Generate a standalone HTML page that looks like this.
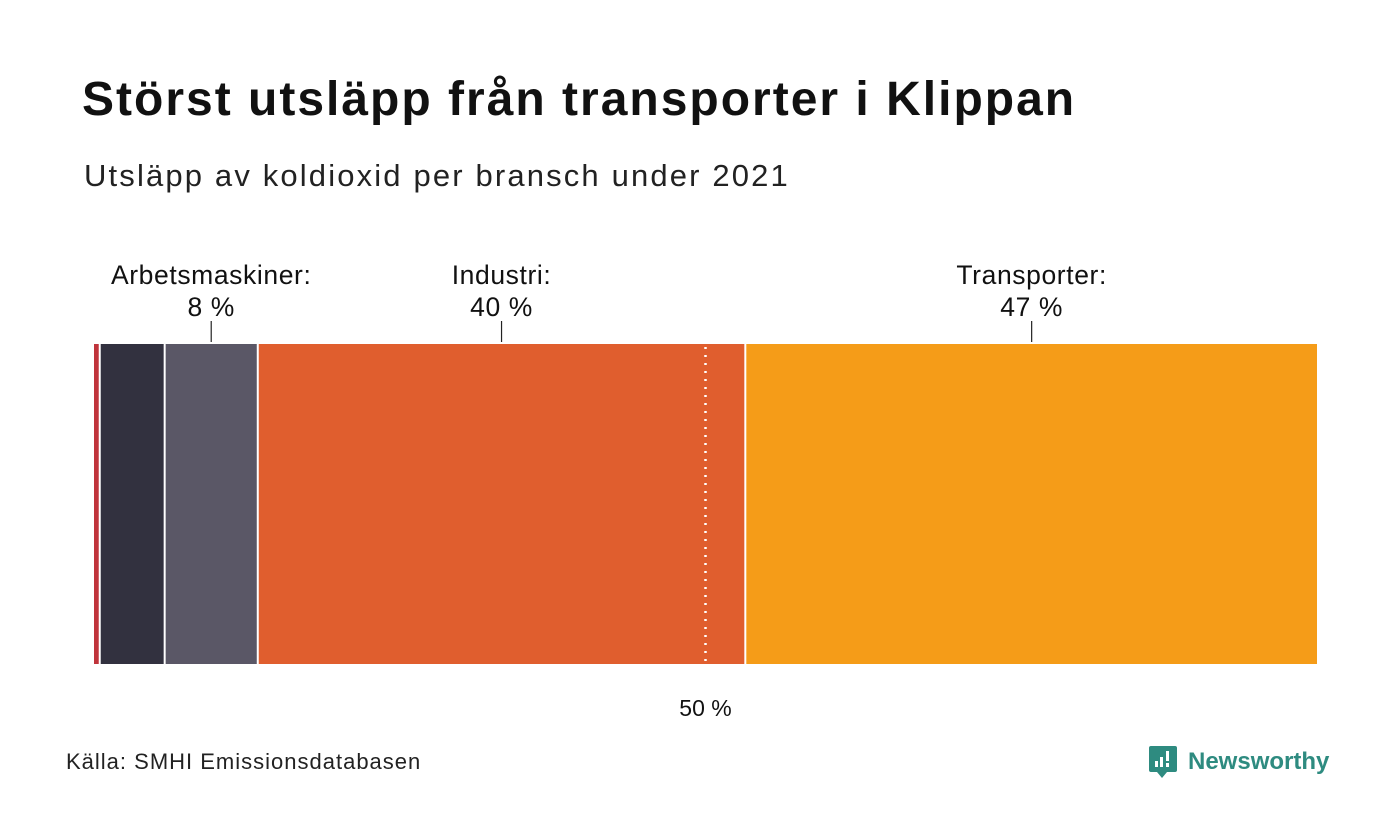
<!DOCTYPE html>
<html><head><meta charset="utf-8"><style>
body{margin:0;background:#fff;}
#c{position:relative;width:1400px;height:840px;font-family:"Liberation Sans",sans-serif;color:#111;}
</style></head><body>
<div id="c">
<div style="position:absolute;left:82px;top:72px;font-size:48px;font-weight:bold;letter-spacing:2px;">Störst utsläpp från transporter i Klippan</div>
<div style="position:absolute;left:84px;top:158px;font-size:31px;letter-spacing:2.15px;color:#222;">Utsläpp av koldioxid per bransch under 2021</div>
<svg id="s" width="1400" height="840" style="position:absolute;left:0;top:0"></svg>
<div style="position:absolute;left:66px;top:749px;font-size:22px;letter-spacing:1px;color:#222;">Källa: SMHI Emissionsdatabasen</div>
<div style="position:absolute;left:1148px;top:744px;height:36px;display:flex;align-items:center;">
<svg width="30" height="36" viewBox="0 0 30 36"><path d="M3 2h24a2 2 0 0 1 2 2v22a2 2 0 0 1-2 2H19l-5 6-5-6H3a2 2 0 0 1-2-2V4a2 2 0 0 1 2-2z" fill="#2e8b80"/><rect x="7" y="17" width="3" height="6" fill="#fff"/><rect x="12" y="13" width="3" height="10" fill="#fff"/><rect x="18" y="7" width="3" height="10" fill="#fff"/><rect x="18" y="19" width="3" height="4" fill="#fff"/></svg>
<span style="margin-left:10px;font-size:24px;font-weight:bold;color:#2e8b80;">Newsworthy</span></div>
</div>
<script>
const categories=["Övrigt","Egen uppvärmning","Arbetsmaskiner","Industri","Transporter"];
const values=[0.55,5.3,7.6,39.8,46.75];
const colors=["#c0343b","#32313f","#5a5766","#e05e2e","#f59c18"];
const labels=[null,null,"Arbetsmaskiner:\n8 %","Industri:\n40 %","Transporter:\n47 %"];
const refValue=50;
const x0=93,x1=1318,barTop=344,barBot=664;
const total=values.reduce((a,b)=>a+b,0);
const xs=v=>x0+(x1-x0)*v/total;
const s=document.getElementById('s');
const NS="http://www.w3.org/2000/svg";
function mk(t,a){const e=document.createElementNS(NS,t);for(const k in a)e.setAttribute(k,a[k]);s.appendChild(e);return e;}
let acc=0;
values.forEach((v,i)=>{
 const a=xs(acc),b=xs(acc+v);acc+=v;
 const r=mk('rect',{x:a+1,y:barTop,width:Math.max(b-a-2,1),height:barBot-barTop,fill:colors[i]});
 
 
 if(labels[i]){
  const cx=(a+b)/2;
  const l=mk('line',{x1:cx,x2:cx,y1:321,y2:342,stroke:'#222','stroke-width':1.2});
  
  
  const parts=labels[i].split('\n');
  parts.forEach((p,j)=>{
   const t=mk('text',{x:cx,y:284+j*32,'text-anchor':'middle','font-size':26.5,'letter-spacing':0.6,fill:'#111','font-family':'Liberation Sans, sans-serif'});
   t.textContent=p;
   
   
  });
 }
});
const rx=xs(refValue*total/100);
const rl=mk('line',{x1:rx,x2:rx,y1:barTop+3,y2:barBot,stroke:'#fff','stroke-width':2.5,'stroke-dasharray':'2 6'});


const rt=mk('text',{x:rx,y:716,'text-anchor':'middle','font-size':23,fill:'#111','font-family':'Liberation Sans, sans-serif'});
rt.textContent=refValue+' %';


</script>
</body></html>
